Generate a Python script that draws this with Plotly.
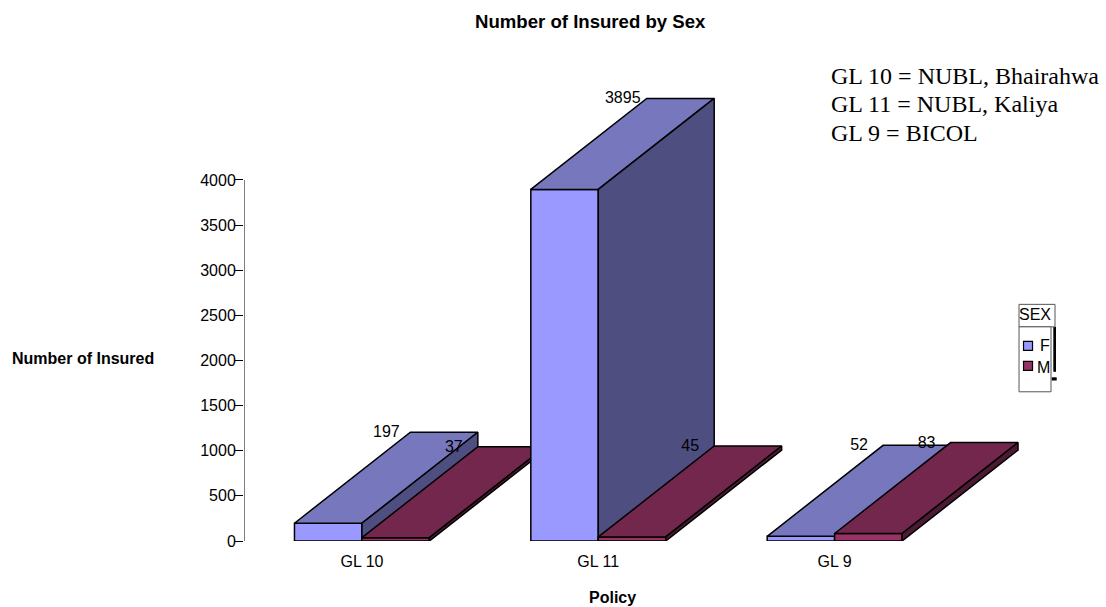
import plotly.graph_objects as go

policies = ["GL 10", "GL 11", "GL 9"]
sexes = ["F", "M"]
insured_f = [197, 3895, 52]
insured_m = [37, 45, 83]
y_ticks = [0, 500, 1000, 1500, 2000, 2500, 3000, 3500, 4000]
notes = ["GL 10 = NUBL, Bhairahwa", "GL 11 = NUBL, Kaliya", "GL 9 = BICOL"]

W, H = 1106, 607
L, R, T, B = 243.5, 1060.0, 60.0, 541.3
STEP = 236.5
PX_X = 1 / STEP
PX_Y = 4000 / (B - 180.0)
BAR_W = 67.5 * PX_X
DX = 116 * PX_X
DY = 91 * PX_Y
FONT = "Liberation Sans"
COL = {
    "F": ("#9999FF", "#7777BD", "#4E4E80"),
    "M": ("#993366", "#73274D", "#4D1A33"),
}
X_MIN = -118 * PX_X
X_MAX = X_MIN + (R - L) * PX_X


def px(x):
    return (x - L) / (R - L)


def py(y):
    return (B - y) / (B - T)


fig = go.Figure()


def poly(xs, ys, color):
    fig.add_trace(go.Scatter(
        x=xs + xs[:1], y=ys + ys[:1], mode="lines", fill="toself", fillcolor=color,
        line=dict(color="black", width=1.5), hoverinfo="skip", showlegend=False,
        cliponaxis=False,
    ))


fig.add_trace(go.Scatter(
    x=[X_MIN, X_MIN], y=[y_ticks[0], y_ticks[-1]], mode="lines",
    line=dict(color="black", width=1), hoverinfo="skip", showlegend=False, cliponaxis=False,
))

lx, ly, lt = [], [], []
for i, p in enumerate(policies):
    for j, (s, v) in enumerate(zip(sexes, (insured_f[i], insured_m[i]))):
        x0 = i - BAR_W + j * BAR_W
        x1 = x0 + BAR_W
        front, top, side = COL[s]
        poly([x0, x1, x1, x0], [0, 0, v, v], front)
        poly([x0, x1, x1 + DX, x0 + DX], [v, v, v + DY, v + DY], top)
        poly([x1, x1 + DX, x1 + DX, x1], [0, DY, v + DY, v], side)
        lx.append(x0 + 92 * PX_X)
        ly.append(v + DY - 1 * PX_Y)
        lt.append(str(v))

fig.add_trace(go.Scatter(
    x=lx, y=ly, text=lt, mode="text", textposition="middle center",
    textfont=dict(family=FONT, size=16, color="black"),
    hoverinfo="skip", showlegend=False, cliponaxis=False,
))

ann = []


def text(x, y, s, size, bold=False, family=FONT, anchor="center"):
    ann.append(dict(
        x=px(x), y=py(y), xref="paper", yref="paper", text=f"<b>{s}</b>" if bold else s,
        showarrow=False, xanchor=anchor, yanchor="middle", borderpad=0,
        font=dict(family=family, size=size, color="black"),
    ))


text(590.5, 21, "Number of Insured by Sex", 18.6, True)
text(82, 359, "Number of Insured", 16, True)
text(612, 598, "Policy", 16, True)
for n, yy in zip(notes, (76, 104.5, 133)):
    text(830, yy, n, 24, family="Liberation Serif", anchor="left")
text(1035, 315, "SEX", 16)
for s, xx, yy in zip(sexes, (1044.5, 1043), (346, 368)):
    text(xx, yy, s, 16)

shapes = []


def rect(x0, y0, x1, y1, fill="white", line="#555555", lw=1):
    shapes.append(dict(
        type="rect", xref="paper", yref="paper", x0=px(x0), x1=px(x1), y0=py(y0), y1=py(y1),
        fillcolor=fill, line=dict(color=line, width=lw), layer="above",
    ))


rect(1053.3, 327, 1056, 372, "black", "black", 0)
rect(1051.7, 377.5, 1056.7, 380.7, "black", "black", 0)
rect(1019, 304.5, 1055, 327)
rect(1019, 327, 1051, 392)
for s, yy in zip(sexes, (346, 366)):
    rect(1023.5, yy - 4.5, 1032.5, yy + 4.5, COL[s][0], "black", 1.2)

fig.update_layout(
    width=W, height=H, autosize=False, showlegend=False,
    margin=dict(l=L, r=W - R, t=T, b=H - B, pad=0),
    plot_bgcolor="white", paper_bgcolor="white",
    annotations=ann, shapes=shapes,
    xaxis=dict(
        range=[X_MIN, X_MAX],
        tickmode="array", tickvals=list(range(len(policies))), ticktext=policies,
        showgrid=False, zeroline=False, showline=False, ticks="", ticklabelstandoff=9,
        tickfont=dict(family=FONT, size=16, color="black"),
    ),
    yaxis=dict(
        range=[0, (B - T) * PX_Y], tickmode="array", tickvals=y_ticks, ticktext=[str(t) for t in y_ticks],
        showgrid=False, zeroline=False, showline=False,
        ticks="outside", ticklen=8, tickwidth=1, tickcolor="black", ticklabelstandoff=-4,
        tickfont=dict(family=FONT, size=16, color="black"),
    ),
)

fig.write_html("out.html", post_script="document.body.style.margin='0';", config={"displayModeBar": False})
